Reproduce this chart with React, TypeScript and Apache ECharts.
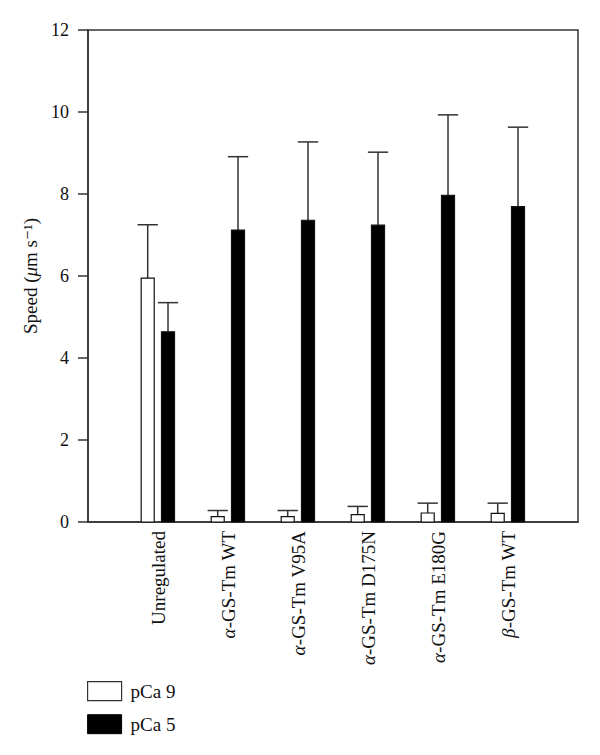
import React, { useEffect, useRef } from "react";
import * as echarts from "echarts";

const categories = [
  "Unregulated",
  "α-GS-Tm WT",
  "α-GS-Tm V95A",
  "α-GS-Tm D175N",
  "α-GS-Tm E180G",
  "β-GS-Tm WT",
];
const pCa9Mean = [5.95, 0.13, 0.13, 0.18, 0.22, 0.21];
const pCa9Err = [1.3, 0.15, 0.15, 0.2, 0.24, 0.25];
const pCa5Mean = [4.64, 7.12, 7.36, 7.24, 7.97, 7.69];
const pCa5Err = [0.71, 1.79, 1.91, 1.78, 1.96, 1.94];
const yTicks = [0, 2, 4, 6, 8, 10, 12];

const FONT = "'Liberation Serif', 'DejaVu Serif', serif";

function makeRender(offsetFrac: number, fill: string) {
  return (params: any, api: any) => {
    const x = api.value(0);
    const mean = api.value(1);
    const err = api.value(2);
    const band = api.size([1, 0])[0];
    const base = api.coord([x, 0]);
    const top = api.coord([x, mean]);
    const errTop = api.coord([x, mean + err]);
    const cx = base[0] + band * offsetFrac;
    const w = band * 0.186;
    const cap = band * 0.29;
    return {
      type: "group",
      children: [
        {
          type: "line",
          shape: { x1: cx, y1: top[1], x2: cx, y2: errTop[1] },
          style: { stroke: "#333", lineWidth: 1.5 },
        },
        {
          type: "line",
          shape: { x1: cx - cap / 2, y1: errTop[1], x2: cx + cap / 2, y2: errTop[1] },
          style: { stroke: "#333", lineWidth: 1.5 },
        },
        {
          type: "rect",
          shape: { x: cx - w / 2, y: top[1], width: w, height: base[1] - top[1] },
          style: { fill, stroke: "#111", lineWidth: 1.2 },
        },
      ],
    };
  };
}

function labelFormatter(v: number) {
  const name = categories[v - 1];
  if (!name) return "";
  const m = name.match(/^([αβ])(.*)$/);
  if (m) return "{g|" + m[1] + "}" + m[2];
  return name;
}

export default function App() {
  const ref = useRef<HTMLDivElement>(null);
  useEffect(() => {
    if (!ref.current) return;
    const chart = echarts.init(ref.current, undefined, { renderer: "svg" });
    const labelRich = {
      g: { fontStyle: "italic", fontFamily: FONT, fontSize: 19, color: "#111" },
    };
    chart.setOption({
      animation: false,
      backgroundColor: "#fff",
      textStyle: { fontFamily: FONT },
      grid: {
        left: 88,
        right: 22,
        top: 30,
        bottom: 233,
        show: true,
        borderColor: "#333",
        borderWidth: 1.5,
        backgroundColor: "transparent",
      },
      legend: {
        orient: "vertical",
        left: 87,
        top: 681,
        padding: 0,
        itemWidth: 34,
        itemHeight: 19,
        itemGap: 13,
        icon: "rect",
        textStyle: { fontFamily: FONT, fontSize: 19, color: "#111", padding: [0, 0, 0, 4] },
        data: [
          { name: "pCa 9", itemStyle: { color: "#fff", borderColor: "#333", borderWidth: 1.2 } },
          { name: "pCa 5", itemStyle: { color: "#000", borderColor: "#000", borderWidth: 1 } },
        ],
      },
      xAxis: {
        type: "value",
        min: 0,
        max: categories.length + 1,
        interval: 1,
        splitLine: { show: false },
        axisTick: { show: false },
        axisLine: { show: true, lineStyle: { color: "#333", width: 1.5 } },
        axisLabel: {
          rotate: 90,
          margin: 9,
          fontFamily: FONT,
          fontSize: 19,
          color: "#111",
          formatter: labelFormatter,
          rich: labelRich,
          showMinLabel: false,
          showMaxLabel: false,
        },
      },
      yAxis: {
        type: "value",
        min: 0,
        max: 12,
        interval: 2,
        splitLine: { show: false },
        axisLine: { show: true, lineStyle: { color: "#333", width: 1.5 } },
        axisTick: { show: true, inside: false, length: 10, lineStyle: { color: "#333", width: 1.5 } },
        axisLabel: {
          margin: 19,
          fontFamily: FONT,
          fontSize: 18,
          color: "#111",
          formatter: (v: number) => (yTicks.includes(v) ? String(v) : ""),
        },
        name: "Speed ({mu|μ}m s⁻¹)",
        nameLocation: "middle",
        nameRotate: 90,
        nameGap: 44,
        nameTextStyle: {
          fontFamily: FONT,
          fontSize: 19,
          color: "#111",
          rich: {
            mu: { fontStyle: "italic", fontFamily: FONT, fontSize: 19, color: "#111" },
          },
        },
      },
      series: [
        {
          name: "pCa 9",
          type: "custom",
          itemStyle: { color: "#fff", borderColor: "#333" },
          renderItem: makeRender(-0.147, "#fff"),
          data: pCa9Mean.map((m, i) => [i + 1, m, pCa9Err[i]]),
        },
        {
          name: "pCa 5",
          type: "custom",
          itemStyle: { color: "#000" },
          renderItem: makeRender(0.143, "#000"),
          data: pCa5Mean.map((m, i) => [i + 1, m, pCa5Err[i]]),
        },
      ],
    });
    return () => chart.dispose();
  }, []);
  return <div ref={ref} style={{ width: 600, height: 755, position: "absolute", left: 0, top: 0 }} />;
}
